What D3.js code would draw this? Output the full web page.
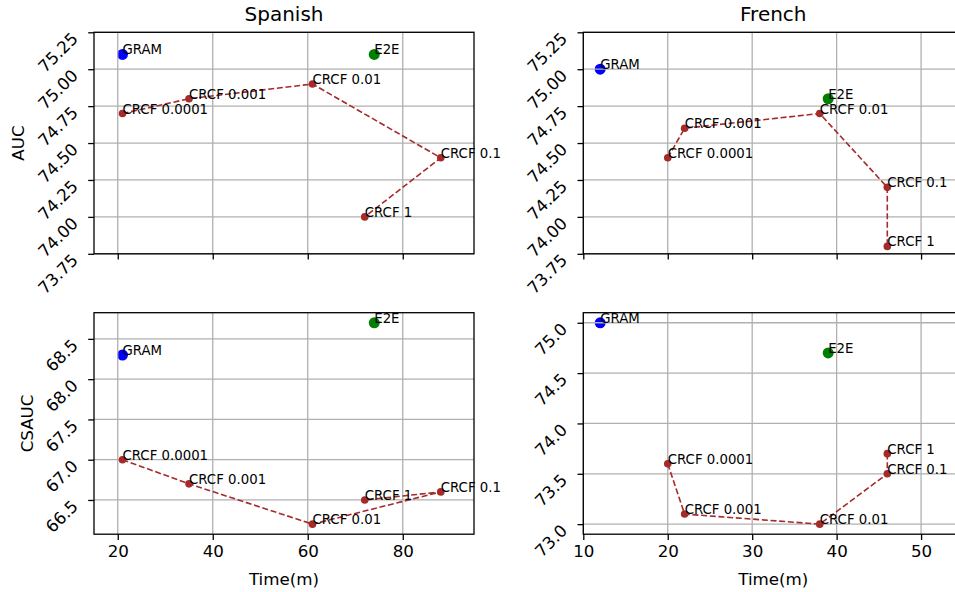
<!DOCTYPE html>
<html>
<head>
<meta charset="utf-8">
<script src="https://cdn.jsdelivr.net/npm/d3@7"></script>
<style>
  body { margin: 0; background: #fff; }
  svg { display: block; font-family: "DejaVu Sans", sans-serif; }
</style>
</head>
<body>
<svg id="chart" width="955" height="592"></svg>
<script>
// CRCF runs, in the order the dashed line joins them
const lambdas = ['0.0001', '0.001', '0.01', '0.1', '1'];

// Spanish
const esTime  = [21, 35, 61, 88, 72];
const esAuc   = [74.7, 74.8, 74.9, 74.4, 74.0];
const esCsauc = [67.0, 66.7, 66.2, 66.6, 66.5];

// French
const frTime  = [20, 22, 38, 46, 46];
const frAuc   = [74.4, 74.6, 74.7, 74.2, 73.8];
const frCsauc = [73.6, 73.1, 73.0, 73.5, 73.7];

// baselines: [time, AUC, CSAUC]
const esGram = [21, 75.1, 68.3];
const esE2e  = [74, 75.1, 68.7];
const frGram = [12, 75.0, 75.0];
const frE2e  = [39, 74.8, 74.7];

// ticks and limits
const esTimeTicks  = [20, 40, 60, 80];
const frTimeTicks  = [10, 20, 30, 40, 50];
const aucTicks     = [73.75, 74, 74.25, 74.5, 74.75, 75, 75.25];
const esCsaucTicks = [66.5, 67, 67.5, 68, 68.5];
const frCsaucTicks = [73, 73.5, 74, 74.5, 75];

const esTimeLim  = [15, 95];
const frTimeLim  = [10, 55];
const aucLim     = [73.75, 75.25];
const esCsaucLim = [66.075, 68.825];
const frCsaucLim = [72.9, 75.1];

let svg = d3.select('#chart');

let cols = [94, 583.3];
let rows = [32.3, 312.7];
let panelW = 380;
let panelH = 221.5;

function drawPanel(o) {
  let g = svg.append('g').attr('transform', 'translate(' + o.x0 + ',' + o.y0 + ')');

  let xScale = d3.scaleLinear().domain(o.xLim).range([0, panelW]);
  let yScale = d3.scaleLinear().domain(o.yLim).range([panelH, 0]);

  // baseline models (drawn below the grid, like a scatter)
  g.append('circle')
    .attr('cx', xScale(o.gram[0])).attr('cy', yScale(o.gram[1]))
    .attr('r', 5.5).style('fill', '#0000ff');
  g.append('circle')
    .attr('cx', xScale(o.e2e[0])).attr('cy', yScale(o.e2e[1]))
    .attr('r', 5.5).style('fill', '#008000');

  // grid
  g.append('g')
    .selectAll('line.gx')
    .data(o.xTicks)
    .enter()
    .append('line')
    .attr('x1', d => xScale(d)).attr('x2', d => xScale(d))
    .attr('y1', 0).attr('y2', panelH)
    .style('stroke', '#b0b0b0').style('stroke-width', 1.3);
  g.append('g')
    .selectAll('line.gy')
    .data(o.yTicks)
    .enter()
    .append('line')
    .attr('x1', 0).attr('x2', panelW)
    .attr('y1', d => yScale(d)).attr('y2', d => yScale(d))
    .style('stroke', '#b0b0b0').style('stroke-width', 1.3);

  // CRCF dashed line and points
  let pts = o.times.map((t, i) => [t, o.vals[i]]);
  g.append('path')
    .datum(pts)
    .attr('d', d3.line().x(d => xScale(d[0])).y(d => yScale(d[1])))
    .style('fill', 'none')
    .style('stroke', '#a52a2a')
    .style('stroke-width', 1.6)
    .style('stroke-dasharray', '6,2.7');
  g.selectAll('.dot-crcf')
    .data(pts)
    .enter()
    .append('circle')
    .attr('class', 'dot-crcf')
    .attr('r', 3.8)
    .attr('cx', d => xScale(d[0]))
    .attr('cy', d => yScale(d[1]))
    .style('fill', '#a52a2a');

  // x axis
  let xAxis = d3.axisBottom(xScale).tickValues(o.xTicks).tickSize(5.8).tickSizeOuter(0).tickPadding(5.5);
  if (!o.showX) xAxis.tickFormat('');
  let xg = g.append('g').attr('transform', 'translate(0,' + panelH + ')').call(xAxis);
  xg.select('.domain').remove();
  xg.selectAll('line').style('stroke', '#000').style('stroke-width', 1.3);
  xg.selectAll('text')
    .style('font-size', '16.7px')
    .style('font-family', '"DejaVu Sans", sans-serif')
    .style('fill', '#000');

  // y axis, labels rotated 45 degrees
  let yAxis = d3.axisLeft(yScale).tickValues(o.yTicks).tickFormat(d3.format(o.yFmt)).tickSize(5.8).tickSizeOuter(0);
  let yg = g.append('g').call(yAxis);
  yg.select('.domain').remove();
  yg.selectAll('line').style('stroke', '#000').style('stroke-width', 1.3);
  yg.selectAll('text')
    .attr('x', null)
    .attr('dy', null)
    .attr('transform', 'translate(-15,7) rotate(-45)')
    .style('text-anchor', 'end')
    .style('font-size', '16.7px')
    .style('font-family', '"DejaVu Sans", sans-serif')
    .style('fill', '#000');

  // frame
  g.append('rect')
    .attr('width', panelW).attr('height', panelH)
    .style('fill', 'none').style('stroke', '#000').style('stroke-width', 1.3);

  // point labels
  let labels = [
    ['GRAM', o.gram[0], o.gram[1]],
    ['E2E', o.e2e[0], o.e2e[1]]
  ].concat(lambdas.map((l, i) => ['CRCF ' + l, o.times[i], o.vals[i]]));
  g.selectAll('.pt-label')
    .data(labels)
    .enter()
    .append('text')
    .attr('class', 'pt-label')
    .attr('x', d => xScale(d[1]))
    .attr('y', d => yScale(d[2]))
    .style('font-size', '13.3px')
    .style('fill', '#000')
    .text(d => d[0]);

  if (o.title) {
    g.append('text')
      .attr('x', panelW / 2).attr('y', 21 - o.y0)
      .style('text-anchor', 'middle')
      .style('font-size', '20px')
      .text(o.title);
  }
  if (o.yLabel) {
    g.append('text')
      .attr('transform', 'translate(' + (o.yLabelX - o.x0) + ',' + panelH / 2 + ') rotate(-90)')
      .style('text-anchor', 'middle')
      .style('font-size', '16.7px')
      .text(o.yLabel);
  }
  if (o.showX) {
    g.append('text')
      .attr('x', panelW / 2).attr('y', 585 - o.y0)
      .style('text-anchor', 'middle')
      .style('font-size', '16.7px')
      .text('Time(m)');
  }
}

drawPanel({ x0: cols[0], y0: rows[0], xLim: esTimeLim, yLim: aucLim, xTicks: esTimeTicks, yTicks: aucTicks, yFmt: '.2f',
  times: esTime, vals: esAuc, gram: [esGram[0], esGram[1]], e2e: [esE2e[0], esE2e[1]],
  title: 'Spanish', yLabel: 'AUC', yLabelX: 24, showX: false });
drawPanel({ x0: cols[1], y0: rows[0], xLim: frTimeLim, yLim: aucLim, xTicks: frTimeTicks, yTicks: aucTicks, yFmt: '.2f',
  times: frTime, vals: frAuc, gram: [frGram[0], frGram[1]], e2e: [frE2e[0], frE2e[1]],
  title: 'French', showX: false });
drawPanel({ x0: cols[0], y0: rows[1], xLim: esTimeLim, yLim: esCsaucLim, xTicks: esTimeTicks, yTicks: esCsaucTicks, yFmt: '.1f',
  times: esTime, vals: esCsauc, gram: [esGram[0], esGram[2]], e2e: [esE2e[0], esE2e[2]],
  yLabel: 'CSAUC', yLabelX: 33, showX: true });
drawPanel({ x0: cols[1], y0: rows[1], xLim: frTimeLim, yLim: frCsaucLim, xTicks: frTimeTicks, yTicks: frCsaucTicks, yFmt: '.1f',
  times: frTime, vals: frCsauc, gram: [frGram[0], frGram[2]], e2e: [frE2e[0], frE2e[2]],
  showX: true });
</script>
</body>
</html>
